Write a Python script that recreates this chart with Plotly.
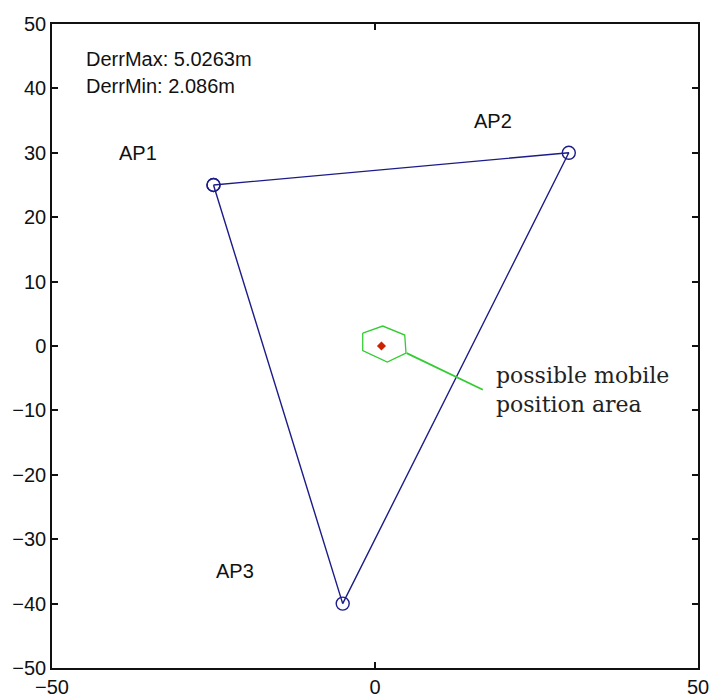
import plotly.graph_objects as go

# Access point positions (m)
ap_names = ["AP1", "AP2", "AP3"]
ap_x = [-25, 30, -5]
ap_y = [25, 30, -40]

# AP label positions
label_x = [-40, 15, -25]
label_y = [30, 35, -35]

# Possible mobile position area (hexagon)
hex_x = [-1.9, 1.2, 4.6, 4.8, 1.9, -1.9, -1.9]
hex_y = [2.0, 3.1, 1.7, -1.1, -2.5, -0.7, 2.0]

# Estimated mobile position
mob_x = [1]
mob_y = [0]

# Callout line from area to note
call_x = [4.9, 16.7]
call_y = [-1.1, -6.8]

derr_max = 5.0263
derr_min = 2.086

fig = go.Figure()

tri_x = ap_x + [ap_x[0]]
tri_y = ap_y + [ap_y[0]]
fig.add_trace(go.Scatter(
    x=tri_x, y=tri_y, mode="lines+markers",
    line=dict(color="#1c1c88", width=1.4),
    marker=dict(symbol="circle-open", size=13, color="#1c1c88", line=dict(width=1.4)),
    showlegend=False, hoverinfo="skip"))

fig.add_trace(go.Scatter(
    x=hex_x, y=hex_y, mode="lines",
    line=dict(color="#33cc33", width=1.3),
    showlegend=False, hoverinfo="skip"))

fig.add_trace(go.Scatter(
    x=call_x, y=call_y, mode="lines",
    line=dict(color="#33cc33", width=1.8),
    showlegend=False, hoverinfo="skip"))

fig.add_trace(go.Scatter(
    x=mob_x, y=mob_y, mode="markers",
    marker=dict(symbol="diamond", size=7, color="#cc2200"),
    showlegend=False, hoverinfo="skip"))

sans = dict(family="Liberation Sans, Arial, sans-serif", size=20, color="#111111")

for name, lx, ly in zip(ap_names, label_x, label_y):
    fig.add_annotation(x=lx, y=ly, text=name, showarrow=False,
                       xanchor="left", yanchor="middle", font=sans)

fig.add_annotation(x=-45, y=44.5, text=f"DerrMax: {derr_max}m", showarrow=False,
                   xanchor="left", yanchor="middle", font=sans)
fig.add_annotation(x=-45, y=40.4, text=f"DerrMin: {derr_min}m", showarrow=False,
                   xanchor="left", yanchor="middle", font=sans)

fig.add_annotation(x=18.4, y=-6.8, text="possible mobile<br>position area", showarrow=False,
                   xanchor="left", yanchor="middle", align="left",
                   font=dict(family="DejaVu Serif, Liberation Serif, serif", size=22, color="#222222"))

axis_common = dict(
    showline=True, linecolor="#111111", linewidth=1.5, mirror="ticks",
    ticks="inside", ticklen=6, tickcolor="#111111", tickwidth=1.5,
    showgrid=False, zeroline=False, automargin=False, ticklabeloverflow="allow",
    tickfont=dict(family="Liberation Sans, Arial, sans-serif", size=20, color="#111111"),
)

fig.update_xaxes(range=[-50, 50], tickvals=[-50, 0, 50], **axis_common)
fig.update_yaxes(range=[-50, 50], tickvals=list(range(-50, 51, 10)), **axis_common)

fig.update_layout(
    width=709, height=698,
    margin=dict(l=52, r=11, t=24, b=30),
    plot_bgcolor="white", paper_bgcolor="white",
)

fig.write_html("out.html")
